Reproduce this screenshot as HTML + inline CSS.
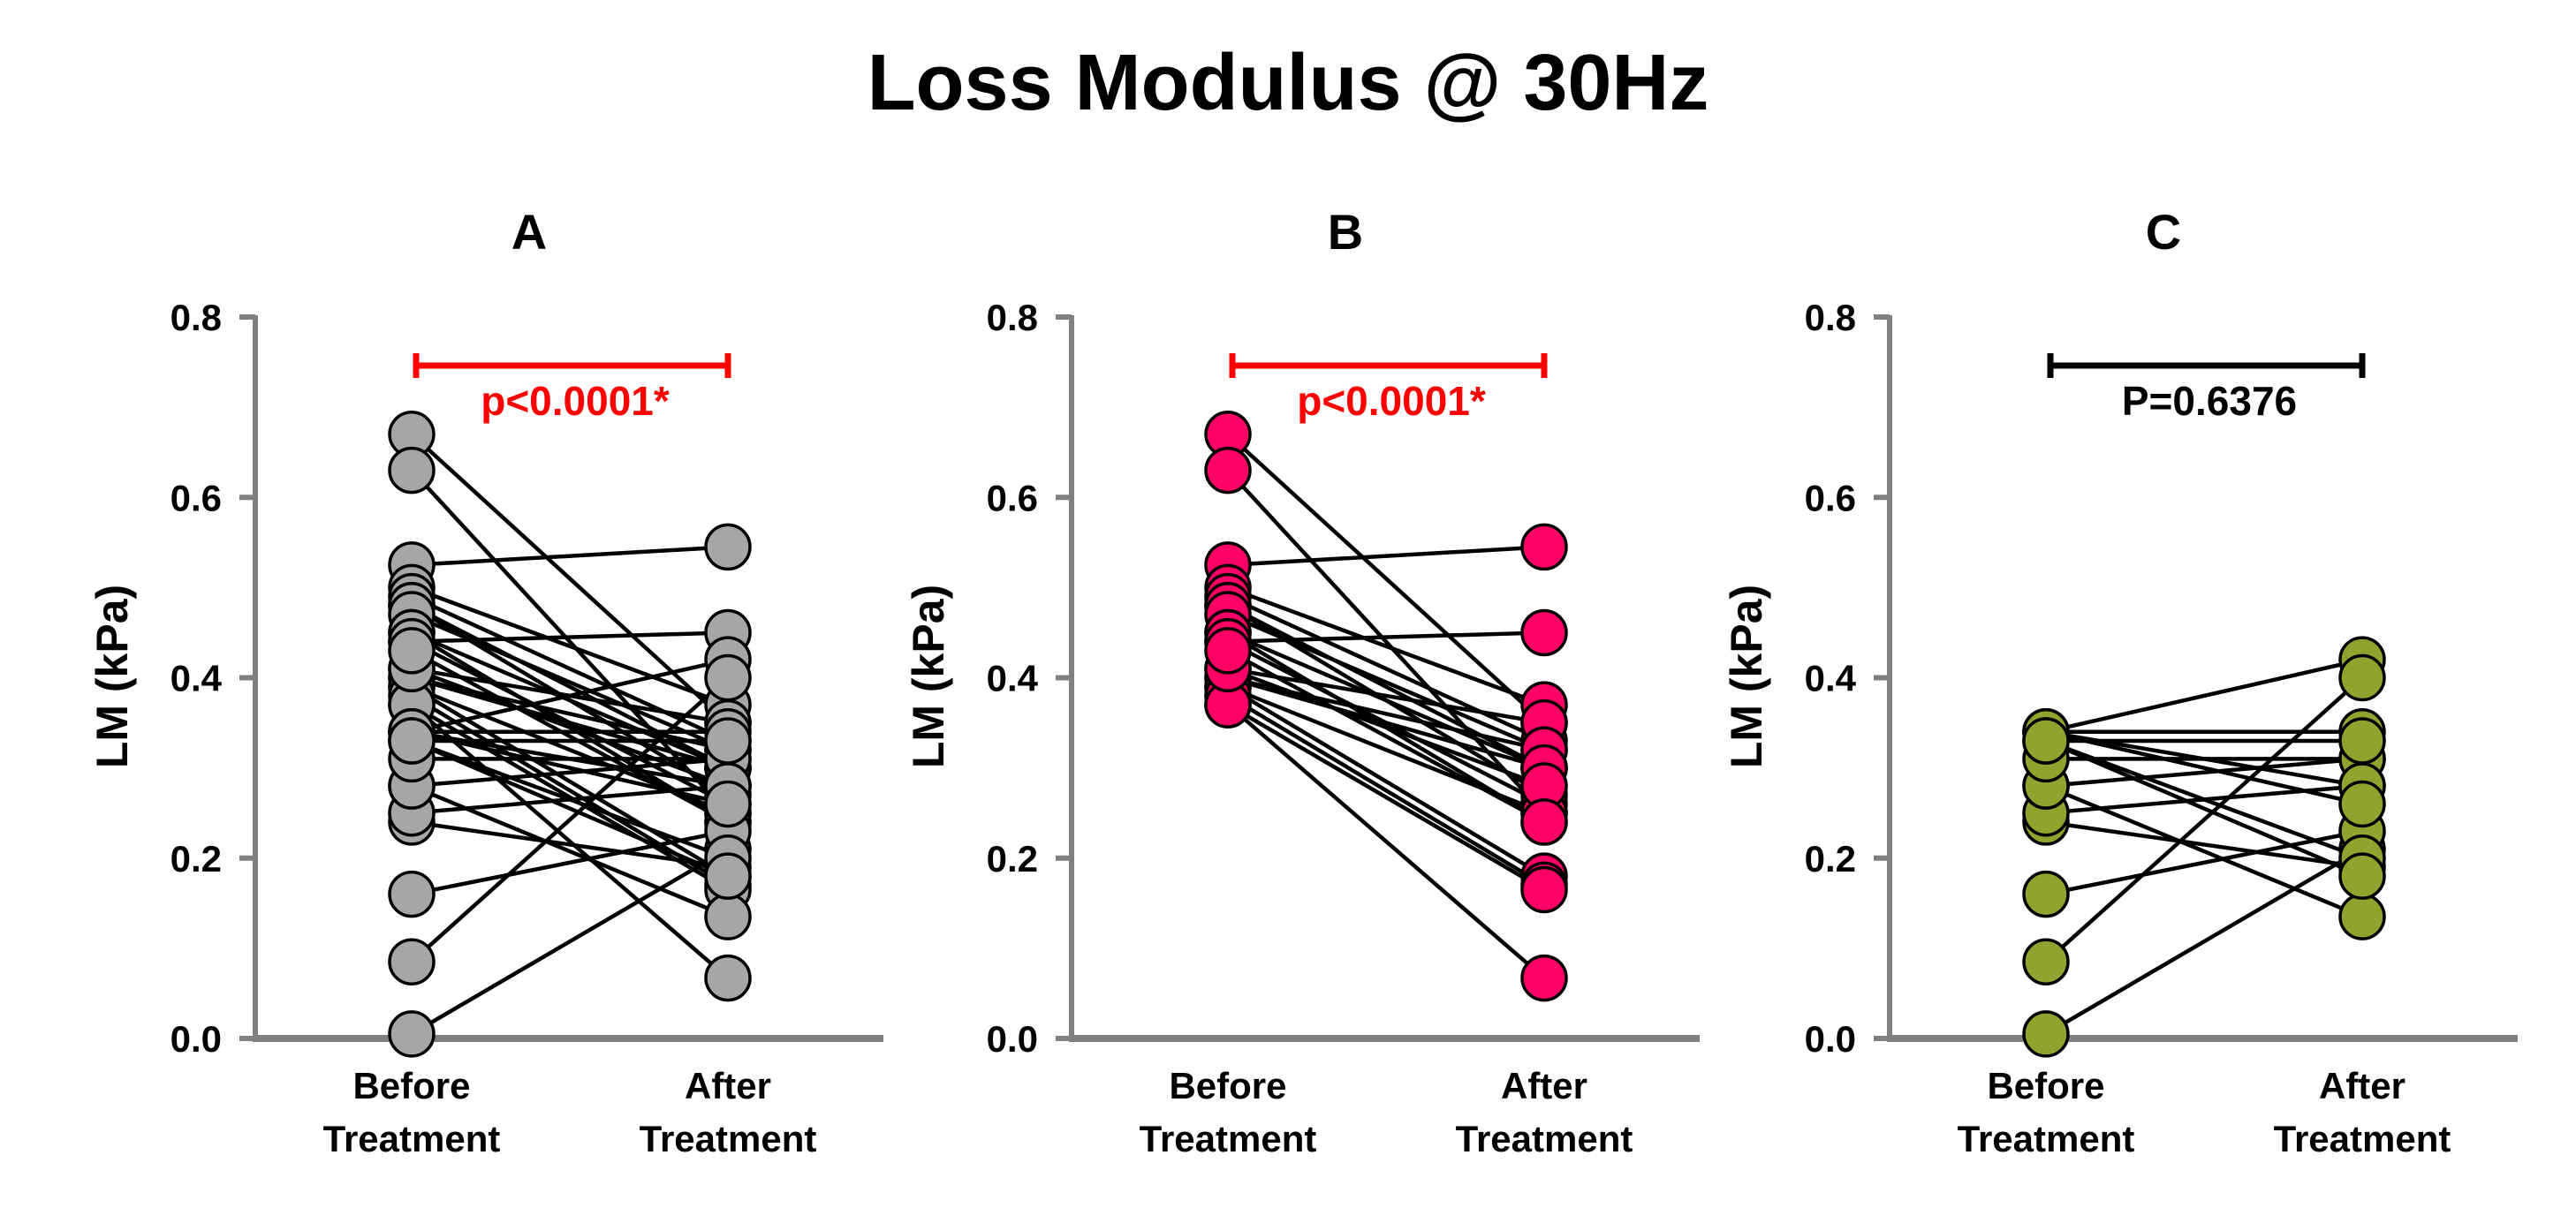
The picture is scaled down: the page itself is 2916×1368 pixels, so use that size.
<!DOCTYPE html>
<html><head><meta charset="utf-8"><style>
html,body{margin:0;padding:0;background:#fff;}
svg{display:block;font-family:"Liberation Sans",Arial,sans-serif;font-weight:bold;}
</style></head><body>
<svg id="chart" width="2916" height="1368" viewBox="0 0 2916 1368" xmlns="http://www.w3.org/2000/svg">
<rect width="2916" height="1368" fill="#fff"/>
<text x="1458" y="124" text-anchor="middle" font-size="90">Loss Modulus @ 30Hz</text>
</svg>
<script>
const yTicks = [0.0, 0.2, 0.4, 0.6, 0.8];
const yTickLabels = ["0.0", "0.2", "0.4", "0.6", "0.8"];
const categories = ["Before|Treatment", "After|Treatment"];
const panelTitles = ["A", "B", "C"];
const pValues = ["p<0.0001*", "p<0.0001*", "P=0.6376"];
const pColors = ["#ff0000", "#ff0000", "#000000"];
const fills = ["#a6a6a6", "#ff0066", "#8fa32e"];
const groupB_before = [0.67,0.63,0.525,0.44,0.37,0.50,0.49,0.48,0.48,0.47,0.45,0.45,0.44,0.41,0.40,0.40,0.39,0.39,0.38,0.37,0.41,0.43];
const groupB_after  = [0.35,0.25,0.545,0.45,0.067,0.37,0.33,0.30,0.27,0.32,0.30,0.24,0.26,0.35,0.32,0.30,0.25,0.18,0.17,0.165,0.28,0.24];
const groupC_before = [0.34,0.085,0.005,0.16,0.24,0.25,0.28,0.28,0.31,0.34,0.33,0.34,0.34,0.33,0.33];
const groupC_after  = [0.42,0.40,0.21,0.23,0.19,0.28,0.31,0.135,0.31,0.34,0.33,0.28,0.26,0.20,0.18];
const groupA_before = [0.67,0.63,0.525,0.44,0.37,0.50,0.49,0.48,0.48,0.47,0.45,0.45,0.44,0.41,0.40,0.40,0.39,0.39,0.38,0.37,0.41,0.43,0.34,0.085,0.005,0.16,0.24,0.25,0.28,0.28,0.31,0.34,0.33,0.34,0.34,0.33,0.33];
const groupA_after  = [0.35,0.25,0.545,0.45,0.067,0.37,0.33,0.30,0.27,0.32,0.30,0.24,0.26,0.35,0.32,0.30,0.25,0.18,0.17,0.165,0.28,0.24,0.42,0.40,0.21,0.23,0.19,0.28,0.31,0.135,0.31,0.34,0.33,0.28,0.26,0.20,0.18];

const befores = [groupA_before, groupB_before, groupC_before];
const afters = [groupA_after, groupB_after, groupC_after];
const axisX = [289, 1213, 2139];
const NS = "http://www.w3.org/2000/svg";
const svg = document.getElementById("chart");
function mk(tag, attrs, parent, text){
  const e = document.createElementNS(NS, tag);
  for (const k in attrs) e.setAttribute(k, attrs[k]);
  if (text !== undefined) e.textContent = text;
  (parent || svg).appendChild(e);
  return e;
}
const y0 = 1176, yTop = 359;
function yScale(v){ return y0 - (v / 0.8) * (y0 - yTop); }

for (let p = 0; p < 3; p++) {
  const ax = axisX[p];
  const xB = ax + 177, xA = ax + 535;
  function xScale(i){ return i === 0 ? xB : xA; }
  const g = mk("g", {});
  
  
  const t = mk("text", {x: ax + 310, y: 282, "text-anchor": "middle", "font-size": 56}, g, panelTitles[p]);
  
  
  const ya = mk("line", {x1: ax, y1: yTop - 2, x2: ax, y2: y0 + 4, stroke: "#808080", "stroke-width": 6}, g);
  
  
  for (let i = 0; i < yTicks.length; i++) {
    const yy = yScale(yTicks[i]);
    const tk = mk("line", {x1: ax - 18, y1: yy, x2: ax, y2: yy, stroke: "#808080", "stroke-width": 6}, g);
    
    
    const tl = mk("text", {x: ax - 38, y: yy + 15, "text-anchor": "end", "font-size": 42}, g, yTickLabels[i]);
    
    
  }
  const xa = mk("line", {x1: ax - 3, y1: y0, x2: ax + 711, y2: y0, stroke: "#808080", "stroke-width": 8}, g);
  
  
  const yt = mk("text", {x: 0, y: 0, "text-anchor": "middle", "font-size": 50, transform: "translate(" + (ax - 145) + ",766) rotate(-90)"}, g, "LM (kPa)");
  
  
  for (let i = 0; i < categories.length; i++) {
    const parts = categories[i].split("|");
    const c1 = mk("text", {x: xScale(i), y: 1244, "text-anchor": "middle", "font-size": 42}, g, parts[0]);
    
    
    const c2 = mk("text", {x: xScale(i), y: 1304, "text-anchor": "middle", "font-size": 42}, g, parts[1]);
    
    
  }
  const col = pColors[p];
  const br = mk("path", {d: "M" + (xB + 5) + " 400 V428 M" + (xB + 5) + " 414 H" + xA + " M" + xA + " 400 V428", stroke: col, "stroke-width": 7, fill: "none"}, g);
  
  
  const pt = mk("text", {x: (xB + xA) / 2 + 6, y: 470, "text-anchor": "middle", "font-size": 46, fill: col}, g, pValues[p]);
  
  
  const bf = befores[p], af = afters[p];
  for (let i = 0; i < bf.length; i++) {
    const ln = mk("line", {x1: xScale(0), y1: yScale(bf[i]), x2: xScale(1), y2: yScale(af[i]), stroke: "#000", "stroke-width": 4.5}, g);
    
    
  }
  for (let i = 0; i < bf.length; i++) {
    const c1 = mk("circle", {cx: xScale(0), cy: yScale(bf[i]), r: 25, fill: fills[p], stroke: "#000", "stroke-width": 3.5}, g);
    
    
    const c2 = mk("circle", {cx: xScale(1), cy: yScale(af[i]), r: 25, fill: fills[p], stroke: "#000", "stroke-width": 3.5}, g);
    
    
  }
}
</script>
</body></html>
